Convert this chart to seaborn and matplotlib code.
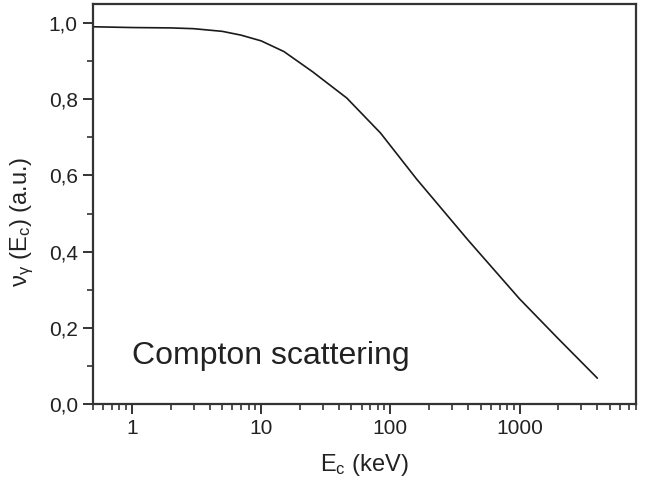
import numpy as np
import pandas as pd
import seaborn as sns
import matplotlib.pyplot as plt
from matplotlib.ticker import FixedLocator, LogLocator, NullFormatter, FuncFormatter, MultipleLocator

energy = [0.5, 1, 2, 3, 5, 7, 10, 15, 25, 46, 84, 160, 400, 1000, 2000, 4000]
nu = [0.990, 0.988, 0.987, 0.985, 0.978, 0.968, 0.953, 0.925, 0.872, 0.803,
      0.711, 0.590, 0.430, 0.276, 0.171, 0.068]
x_ticks = [1, 10, 100, 1000]
y_ticks = [0.0, 0.2, 0.4, 0.6, 0.8, 1.0]

sns.set_style('ticks')
plt.rcParams['font.family'] = ['Liberation Sans', 'DejaVu Sans']
plt.rcParams['mathtext.fontset'] = 'custom'
plt.rcParams['mathtext.rm'] = 'Liberation Sans'
plt.rcParams['mathtext.it'] = 'Liberation Sans'

df = pd.DataFrame({'E': energy, 'nu': nu})

fig = plt.figure(figsize=(6.6, 4.88), dpi=100)
ax = fig.add_axes([0.141, 0.172, 0.823, 0.820])
sns.lineplot(data=df, x='E', y='nu', ax=ax, color='#1a1a1a', linewidth=1.2)

ax.set_xscale('log')
ax.set_xlim(0.5, 8000)
ax.set_ylim(0, 1.05)
ax.xaxis.set_major_locator(FixedLocator(x_ticks))
ax.xaxis.set_major_formatter(FuncFormatter(lambda v, p: f'{v:g}'))
ax.xaxis.set_minor_locator(LogLocator(base=10, subs=np.arange(2, 10)))
ax.xaxis.set_minor_formatter(NullFormatter())
ax.yaxis.set_major_locator(FixedLocator(y_ticks))
ax.yaxis.set_major_formatter(FuncFormatter(lambda v, p: f'{v:.1f}'.replace('.', ',')))
ax.yaxis.set_minor_locator(MultipleLocator(0.1))

for s in ax.spines.values():
    s.set_linewidth(1.6)
    s.set_color('#333333')
ax.tick_params(which='major', length=7, width=1.4, color='#333333', labelsize=15,
               labelcolor='#222222', top=False, right=False, direction='out', pad=4)
ax.tick_params(which='minor', length=4, width=1.2, color='#333333', top=False, right=False)

ax.set_xlabel(r'E$_\mathrm{c}$ (keV)', fontsize=17, color='#222222')
ax.set_ylabel(r'$\mathrm{\nu_{\gamma}}$ (E$_\mathrm{c}$) (a.u.)', fontsize=17, color='#222222')
ax.xaxis.set_label_coords(0.5, -0.12)
ax.yaxis.set_label_coords(-0.105, 0.455)

ax.text(1.0, 0.125, 'Compton scattering', fontsize=23, color='#222222', va='center', ha='left')

fig.savefig('out.png', dpi=100)
